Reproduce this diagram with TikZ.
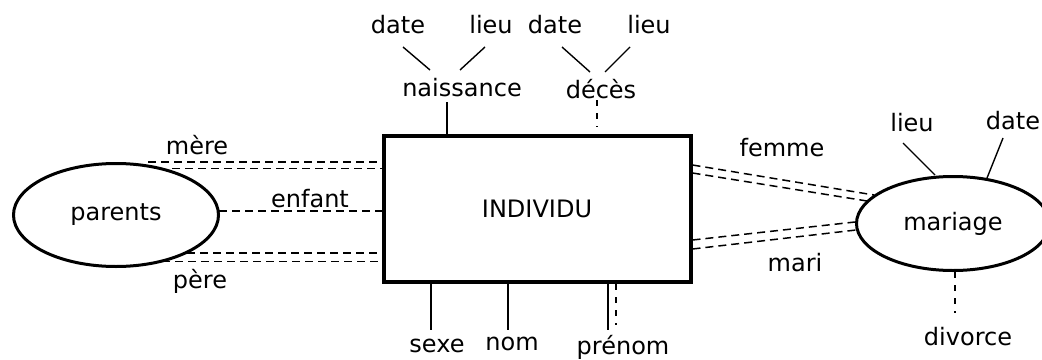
\documentclass[tikz,border=0pt]{standalone}
\usepackage{fontspec}
\setmainfont{DejaVu Sans}
\usetikzlibrary{shapes.geometric}

\tikzset{
	entity/.style={draw, line width=4pt, minimum width=307pt, minimum height=146pt, inner sep=0pt},
	relation/.style={draw, ellipse, line width=3pt, inner sep=0pt},
	attr/.style={inner sep=0pt},
	link/.style={line width=1.4pt},
	stem/.style={line width=2pt},
	role/.style={line width=1.5pt, dash pattern=on 8pt off 5pt},
	optional/.style={line width=1.8pt, dash pattern=on 6pt off 7pt}
}

\begin{document}
\begin{tikzpicture}[x=1pt, y=-1pt, font=\fontsize{24}{28}\selectfont]
	\useasboundingbox (0,0) rectangle (1042,359);

	\node [entity] (individu) at (537,209) {INDIVIDU};
	\node [relation, minimum width=205pt, minimum height=103pt] (parents) at (116,215) {parents};
	\node [relation, minimum width=193pt, minimum height=94pt] (mariage) at (953,223.5) {mariage};

	% naissance et deces
	\node [attr] (naissance) at (462,88) {naissance};
	\node [attr] (deces) at (601,89) {décès};
	\node [attr] (naisDate) at (398,25) {date};
	\node [attr] (naisLieu) at (491,25) {lieu};
	\node [attr] (decDate) at (555,25) {date};
	\node [attr] (decLieu) at (649,25) {lieu};

	\coordinate (naisDateA) at (403,47);
	\coordinate (naisDateB) at (430,70);
	\coordinate (naisLieuA) at (485,47);
	\coordinate (naisLieuB) at (460,70);
	\coordinate (decDateA) at (562,47);
	\coordinate (decDateB) at (590,72);
	\coordinate (decLieuA) at (630,47);
	\coordinate (decLieuB) at (605,72);
	\draw [link] (naisDateA) -- (naisDateB);
	\draw [link] (naisLieuA) -- (naisLieuB);
	\draw [link] (decDateA) -- (decDateB);
	\draw [link] (decLieuA) -- (decLieuB);

	\coordinate (naisFoot) at (447,102);
	\coordinate (decFoot) at (597,100);
	\draw [stem] (naisFoot) -- (naisFoot |- individu.north);
	\draw [optional] (decFoot) -- (597,127);

	% sexe, nom, prenom
	\node [attr] (sexe) at (437,346) {sexe};
	\node [attr] (nom) at (512,344) {nom};
	\node [attr] (prenom) at (623,347) {prénom};

	\coordinate (sexeTop) at (431,330);
	\coordinate (nomTop) at (508,330);
	\coordinate (prenomTop) at (608,330);
	\coordinate (prenomOpt) at (616,325);
	\draw [stem] (sexeTop |- individu.south) -- (sexeTop);
	\draw [stem] (nomTop |- individu.south) -- (nomTop);
	\draw [stem] (prenomTop |- individu.south) -- (prenomTop);
	\draw [optional] (prenomOpt |- individu.south) -- (prenomOpt);

	% parents
	\node [attr] (mere) at (197,145) {mère};
	\node [attr] (enfant) at (310,199) {enfant};
	\node [attr] (pere) at (200,281) {père};

	\coordinate (mereA) at (148,162);
	\coordinate (mereB) at (172,168.5);
	\coordinate (enfantA) at (219,211);
	\coordinate (pereA) at (187,253);
	\coordinate (pereB) at (162,261.5);
	\draw [role] (mereA) -- (mereA -| individu.west);
	\draw [role] (mereB) -- (mereB -| individu.west);
	\draw [role] (enfantA) -- (enfantA -| individu.west);
	\draw [role] (pereA) -- (pereA -| individu.west);
	\draw [role] (pereB) -- (pereB -| individu.west);

	% mariage
	\node [attr] (femme) at (782,148) {femme};
	\node [attr] (mari) at (795,263) {mari};
	\node [attr] (marLieu) at (912,123) {lieu};
	\node [attr] (marDate) at (1013,121) {date};
	\node [attr] (divorce) at (968,337) {divorce};

	\coordinate (femmeA) at (874,195);
	\coordinate (femmeB) at (867,201);
	\coordinate (mariA) at (855,222);
	\coordinate (mariB) at (856,230);
	\draw [role] (individu.east |- 0,165) -- (femmeA);
	\draw [role] (individu.east |- 0,173) -- (femmeB);
	\draw [role] (individu.east |- 0,240) -- (mariA);
	\draw [role] (individu.east |- 0,249) -- (mariB);

	\coordinate (marLieuA) at (903,143);
	\coordinate (marLieuB) at (935,175);
	\coordinate (marDateA) at (1003,138);
	\coordinate (marDateB) at (987,178);
	\coordinate (divorceA) at (955,313);
	\draw [link] (marLieuA) -- (marLieuB);
	\draw [link] (marDateA) -- (marDateB);
	\draw [optional] (divorceA |- mariage.south) -- (divorceA);
\end{tikzpicture}
\end{document}
